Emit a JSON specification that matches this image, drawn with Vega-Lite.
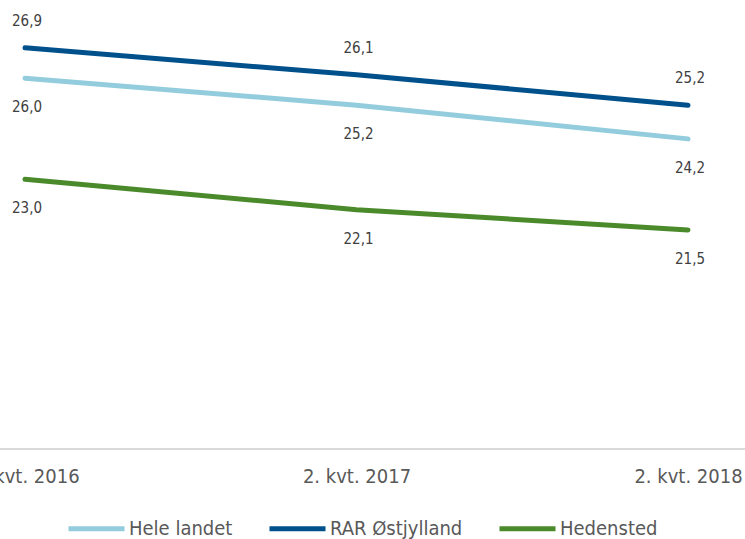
{
  "$schema": "https://vega.github.io/schema/vega-lite/v6.json",
  "width": 745,
  "height": 449,
  "autosize": {"type": "none"},
  "padding": {"left": 0, "top": 0, "right": 0, "bottom": 90},
  "config": {
    "view": {"stroke": null},
    "font": "DejaVu Sans Condensed",
    "locale": {"number": {"decimal": ",", "thousands": ".", "grouping": [3], "currency": ["", " kr."]}}
  },
  "data": {
    "values": [
      {"periode": "2. kvt. 2016", "serie": "Hele landet", "vaerdi": 26.0},
      {"periode": "2. kvt. 2017", "serie": "Hele landet", "vaerdi": 25.2},
      {"periode": "2. kvt. 2018", "serie": "Hele landet", "vaerdi": 24.2},
      {"periode": "2. kvt. 2016", "serie": "RAR Østjylland", "vaerdi": 26.9},
      {"periode": "2. kvt. 2017", "serie": "RAR Østjylland", "vaerdi": 26.1},
      {"periode": "2. kvt. 2018", "serie": "RAR Østjylland", "vaerdi": 25.2},
      {"periode": "2. kvt. 2016", "serie": "Hedensted", "vaerdi": 23.0},
      {"periode": "2. kvt. 2017", "serie": "Hedensted", "vaerdi": 22.1},
      {"periode": "2. kvt. 2018", "serie": "Hedensted", "vaerdi": 21.5}
    ]
  },
  "layer": [
    {
      "data": {"values": [{}]},
      "mark": {"type": "rule", "color": "#d9d9d9", "strokeWidth": 2},
      "encoding": {
        "y": {"datum": 15, "type": "quantitative", "scale": {"domain": [15, 28.32], "nice": false, "zero": false}, "axis": null}
      }
    },
    {
      "mark": {"type": "line", "strokeWidth": 5, "strokeCap": "round", "strokeJoin": "round"},
      "encoding": {
        "x": {
          "field": "periode", "type": "ordinal", "sort": null,
          "scale": {"type": "point", "range": [25, 688], "padding": 0},
          "axis": {"title": null, "domain": false, "ticks": false, "labelAngle": 0,
                   "labelFontSize": 20, "labelColor": "#595959", "labelPadding": 17, "labelOverlap": false}
        },
        "y": {"field": "vaerdi", "type": "quantitative", "scale": {"domain": [15, 28.32], "nice": false, "zero": false}, "axis": null},
        "color": {
          "field": "serie", "type": "nominal",
          "scale": {"domain": ["Hele landet", "RAR Østjylland", "Hedensted"], "range": ["#93cddd", "#00508c", "#4a8a2b"]},
          "legend": {
            "title": null, "orient": "none", "direction": "horizontal",
            "legendX": 66, "legendY": 498,
            "symbolType": "stroke", "symbolSize": 3136, "symbolStrokeWidth": 5,
            "labelFontSize": 20, "labelColor": "#595959", "labelOffset": 2,
            "columnPadding": 26, "padding": 0
          }
        }
      }
    },
    {
      "transform": [{"filter": "datum.serie === 'RAR Østjylland'"}],
      "mark": {"type": "text", "fontSize": 15, "color": "#404040", "dy": -27, "dx": 2},
      "encoding": {
        "x": {"field": "periode", "type": "ordinal", "sort": null},
        "y": {"field": "vaerdi", "type": "quantitative"},
        "text": {"field": "vaerdi", "type": "quantitative", "format": ".1f"}
      }
    },
    {
      "transform": [{"filter": "datum.serie !== 'RAR Østjylland'"}],
      "mark": {"type": "text", "fontSize": 15, "color": "#404040", "dy": 29, "dx": 2},
      "encoding": {
        "x": {"field": "periode", "type": "ordinal", "sort": null},
        "y": {"field": "vaerdi", "type": "quantitative"},
        "text": {"field": "vaerdi", "type": "quantitative", "format": ".1f"}
      }
    }
  ]
}
